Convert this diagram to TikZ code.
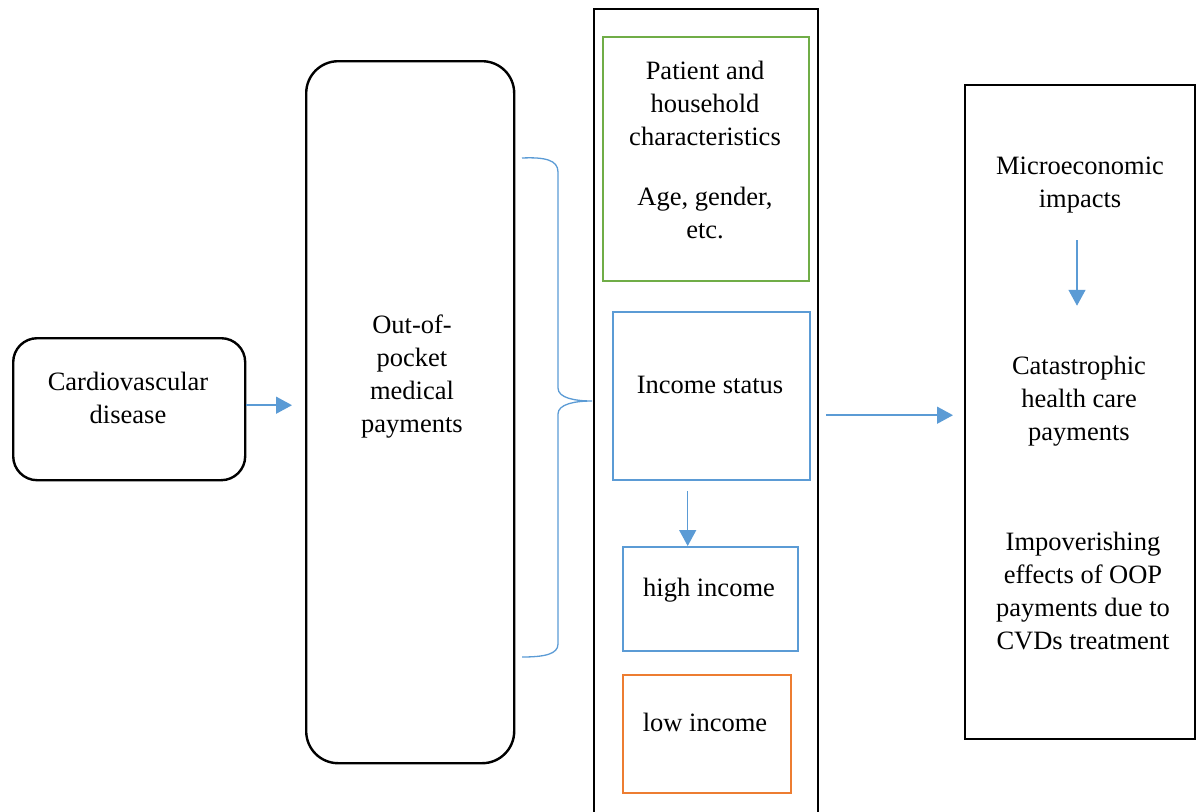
\documentclass[tikz,border=0pt]{standalone}
\usepackage{fontspec}
\setmainfont{Liberation Serif}
\usepackage{xcolor}
\usetikzlibrary{arrows.meta}
\definecolor{flowblue}{HTML}{5B9BD5}
\definecolor{boxgreen}{HTML}{70AD47}
\definecolor{boxorange}{HTML}{ED7D31}

\begin{document}
\begin{tikzpicture}[x=1pt, y=-1pt,
    txt/.style={font=\fontsize{26.5}{33}\selectfont, align=center, inner sep=0pt},
    frame/.style={draw, line width=2.4pt, anchor=north west, inner sep=0pt},
    cbox/.style={draw=#1, line width=2.4pt, anchor=north west, inner sep=0pt},
    flow/.style={-{Triangle[length=16pt, width=17pt]}, flowblue, line width=1.5pt}]
    \useasboundingbox (0, 0) rectangle (1199, 811);
    % boxes
    \node [frame, rounded corners=24pt, minimum width=232pt, minimum height=142pt] (cvd) at (12, 337) {};
    \node [frame, rounded corners=32pt, minimum width=208pt, minimum height=702pt] (oop) at (305, 60) {};
    \node [frame, minimum width=224pt, minimum height=810pt] (col) at (593, 8) {};
    \node [cbox=boxgreen, minimum width=206pt, minimum height=244pt] (pat) at (602, 36) {};
    \node [cbox=flowblue, minimum width=197pt, minimum height=168pt] (inc) at (612, 311) {};
    \node [cbox=flowblue, minimum width=175pt, minimum height=104pt] (hi) at (622, 546) {};
    \node [cbox=boxorange, minimum width=168pt, minimum height=118pt] (lo) at (622, 674) {};
    \node [frame, minimum width=230pt, minimum height=654pt] (imp) at (964, 84) {};
    % texts
    \node [txt] (cvdtxt) at (128, 398) {Cardiovascular\\disease};
    \node [txt] (ooptxt) at (412, 377) {Out-of-\\pocket\\medical\\payments};
    \node [txt] (pattxt) at (705, 150) {Patient and\\household\\characteristics\\[27pt]Age, gender,\\etc.};
    \node [txt] (inctxt) at (710, 385) {Income status};
    \node [txt] (hitxt) at (709, 590) {high income};
    \node [txt] (lotxt) at (705, 722) {low income};
    \node [txt] (micro) at (1080, 185) {Microeconomic\\impacts};
    \node [txt] (cata) at (1079, 401) {Catastrophic\\health care\\payments};
    \node [txt] (impov) at (1083, 591) {Impoverishing\\effects of OOP\\payments due to\\CVDs treatment};
    % brace
    \draw [flowblue, line width=1.3pt] (522, 158) .. controls (545, 157) and (558, 160) .. (558, 172)
        -- (558, 388) .. controls (558, 398) and (575, 401) .. (592, 401)
        .. controls (575, 401) and (558, 404) .. (558, 414)
        -- (558, 644) .. controls (558, 654) and (545, 657) .. (522, 657);
    % arrows
    \draw [flow, shorten >=13pt] ([yshift=4pt]cvd.east) -- ([yshift=4pt]cvd.east -| oop.west);
    \draw [flow, shorten <=7pt, shorten >=11pt] ([yshift=-1pt]col.east) -- ([yshift=-1pt]col.east -| imp.west);
    \draw [flow, shorten <=10pt] ([xshift=-24pt]inc.south) -- ([xshift=-24pt]inc.south |- hi.north);
    \draw [flow, shorten <=27pt, shorten >=50pt] (micro.south -| 1077, 0) -- (cata.north -| 1077, 0);
\end{tikzpicture}
\end{document}
